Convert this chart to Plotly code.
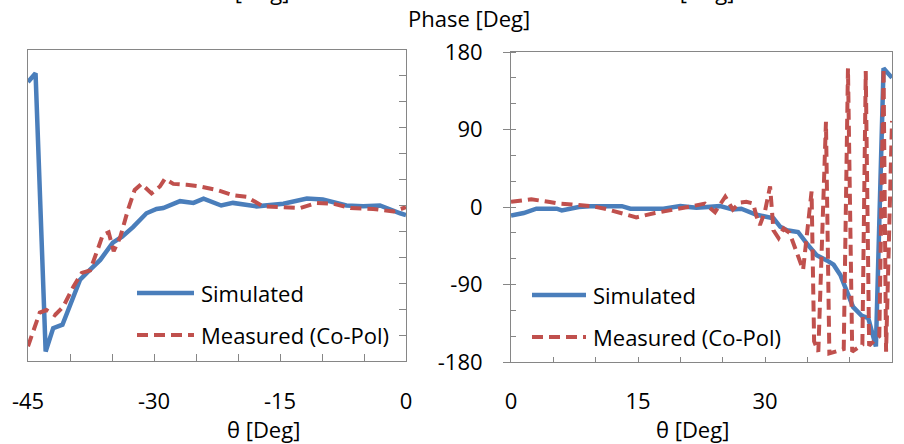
import plotly.graph_objects as go

# ---------------- data ----------------
# Left panel (theta from -45 to 0)
left_sim_theta = [-45, -44.1, -42.9, -42.0, -40.9, -40.0, -38.8, -38.0, -36.4, -34.9, -33.8, -32.5,
                  -30.9, -29.7, -28.9, -26.9, -25.3, -24.1, -22.0, -20.6, -17.8, -14.6, -11.8,
                  -9.9, -7.1, -5.1, -3.1, -0.7, 0]
left_sim_phase = [143, 153, -169, -142, -138, -117, -86, -78, -63, -43, -36, -25,
                  -9, -4, -3, 5, 3, 8, 0, 3, -1, 2, 8,
                  7, 0, -1, 0, -9, -11]

left_meas_theta = [-45, -43.6, -42.8, -41.8, -40.8, -39.6, -38.6, -37.6, -36.6, -36.1, -35.4, -34.8,
                   -34.0, -33.1, -32.3, -31.5, -30.3, -29.3, -28.7, -27.7, -26.1, -24.5, -22.5,
                   -20.6, -19.0, -17.0, -14.6, -12.6, -10.6, -8.6, -6.6, -3.9, -1.5, 0]
left_meas_phase = [-163, -124, -121, -127, -117, -94, -78, -75, -48, -34, -31, -53,
                   -36, -5, 18, 25, 14, 22, 31, 25, 24, 22, 18,
                   12, 10, -1, -2, -3, 3, 2, -3, -4, -7, -2]

# Right panel (theta from 0 to 45)
right_sim_theta = [0, 1.5, 3.0, 5.4, 6.0, 8.0, 9.3, 13.1, 14.1, 18.0, 20.0, 21.9, 24.7, 26.2, 27.2,
                   29.0, 31.0, 31.8, 32.6, 33.9, 34.9, 36.1, 37.3, 38.1, 38.9, 39.6, 40.4, 41.4,
                   42.2, 43.1, 44.0, 45.0]
right_sim_phase = [-10, -7, -2, -2, -4, 0, 1, 1, -2, -2, 1, -1, 1, -3, -2,
                   -9, -13, -23, -27, -29, -42, -56, -62, -67, -79, -98, -116, -126,
                   -129, -162, 161, 150]

right_meas_theta = [0, 2.4, 4.4, 5.6, 7.2, 9.5, 11.1, 12.7, 14.8, 17.0, 19.0, 20.9, 22.9, 24.1,
                    25.3, 26.2, 27.0, 27.8, 28.6, 29.0, 29.4, 30.0, 30.6, 31.0, 31.6, 32.2, 32.9,
                    33.5, 34.5, 35.5, 35.8, 36.3, 37.2, 37.6, 39.3, 39.8, 40.3, 41.5, 41.9, 42.3,
                    43.5, 44.0, 44.3, 45.0]
right_meas_phase = [6, 9, 6, 4, 3, 1, -2, -6, -12, -7, -4, 0, 4, -6,
                    12, -3, 5, 6, 4, -11, -21, -5, 24, -27, -36, -25, -30,
                    -46, -73, 18, -156, -168, 99, -170, -165, 161, -168, -160, 158, -161,
                    -150, 161, -168, 100]

left_xticks = [-45, -40, -35, -30, -25, -20, -15, -10, -5, 0]
left_xlabels = ["-45", "", "", "-30", "", "", "-15", "", "", "0"]
right_xticks = [0, 5, 10, 15, 20, 25, 30, 35, 40, 45]
right_xlabels = ["0", "", "", "15", "", "", "30", "", "", "45"]
right_yticks = [-180, -90, 0, 90, 180]
right_ylabels = ["-180", "-90", "0", "90", "180"]

series_names = ["Simulated", "Measured (Co-Pol)"]

# ---------------- styling ----------------
W, H = 904, 444
FONT = "Open Sans"
FS = 22
BLUE = "#4A7EBB"
RED = "#C0504D"
FRAME = "#868686"
DASH = "11px,6px"


def px(x):
    return x / W


def py(y):
    return 1 - y / H


fig = go.Figure()
fig.add_trace(go.Scatter(x=left_sim_theta, y=left_sim_phase, mode="lines", name=series_names[0],
                         line=dict(color=BLUE, width=4.5), xaxis="x", yaxis="y", showlegend=False))
fig.add_trace(go.Scatter(x=left_meas_theta, y=left_meas_phase, mode="lines", name=series_names[1],
                         line=dict(color=RED, width=4, dash=DASH), xaxis="x", yaxis="y", showlegend=False))
fig.add_trace(go.Scatter(x=right_sim_theta, y=right_sim_phase, mode="lines", name=series_names[0],
                         line=dict(color=BLUE, width=4.5), xaxis="x2", yaxis="y2", showlegend=False))
fig.add_trace(go.Scatter(x=right_meas_theta, y=right_meas_phase, mode="lines", name=series_names[1],
                         line=dict(color=RED, width=4, dash=DASH), xaxis="x2", yaxis="y2", showlegend=False))

axis_common = dict(showgrid=False, zeroline=False, showline=True, linecolor=FRAME, linewidth=1,
                   mirror=True, tickcolor=FRAME, automargin=False,
                   tickfont=dict(family=FONT, size=FS, color="black"))

fig.update_layout(
    width=W, height=H,
    margin=dict(l=0, r=0, t=0, b=0, autoexpand=False),
    paper_bgcolor="white", plot_bgcolor="white",
    font=dict(family=FONT, size=FS, color="black"),
    xaxis=dict(domain=[px(28), px(406)], range=[-45, 0], anchor="y",
               tickmode="array", tickvals=left_xticks, ticktext=left_xlabels,
               ticks="inside", ticklen=7, ticklabelstandoff=21, **axis_common),
    yaxis=dict(domain=[py(361), py(50)], range=[-180, 180], anchor="x", side="right",
               tickmode="linear", tick0=-180, dtick=30, ticks="inside", ticklen=7,
               showticklabels=False, **axis_common),
    xaxis2=dict(domain=[px(511), px(892)], range=[0, 45], anchor="y2",
                tickmode="array", tickvals=right_xticks, ticktext=right_xlabels,
                ticks="inside", ticklen=5, ticklabelstandoff=20, **axis_common),
    yaxis2=dict(domain=[py(362), py(52)], range=[-180, 180], anchor="x2",
                tickmode="array", tickvals=right_yticks, ticktext=right_ylabels,
                ticks="outside", ticklen=7, ticklabelstandoff=16,
                minor=dict(tickmode="linear", tick0=-180, dtick=30, ticks="inside", ticklen=5,
                           tickcolor=FRAME),
                **axis_common),
)

annotations = [
    dict(text="Phase [Deg]", x=px(469), y=py(18)),
    dict(text="\u03b8 [Deg]", x=px(263), y=py(429)),
    dict(text="\u03b8 [Deg]", x=px(692), y=py(429)),
    # titles of the panels above, cut off by the image edge
    dict(text="\u03b8 [Deg]", x=px(252), y=py(-9)),
    dict(text="\u03b8 [Deg]", x=px(697), y=py(-9)),
]
for a in annotations:
    fig.add_annotation(xref="paper", yref="paper", showarrow=False, xanchor="center",
                       yanchor="middle", font=dict(family=FONT, size=FS, color="black"), **a)

# legends drawn inside each panel
legend_rows = [
    # (x0, x1, y, color, dash, label)
    (137, 194, 293, BLUE, "solid", series_names[0]),
    (137, 194, 335, RED, DASH, series_names[1]),
    (532, 586, 295, BLUE, "solid", series_names[0]),
    (532, 586, 337, RED, DASH, series_names[1]),
]
for x0, x1, y, color, dash, label in legend_rows:
    fig.add_shape(type="line", xref="paper", yref="paper", x0=px(x0), x1=px(x1), y0=py(y), y1=py(y),
                  line=dict(color=color, width=4.5 if dash == "solid" else 4, dash=dash))
    fig.add_annotation(xref="paper", yref="paper", showarrow=False, xanchor="left", yanchor="middle",
                       x=px(x1 + 5), y=py(y), text=label,
                       font=dict(family=FONT, size=FS, color="black"))

fig.write_html("out.html")
